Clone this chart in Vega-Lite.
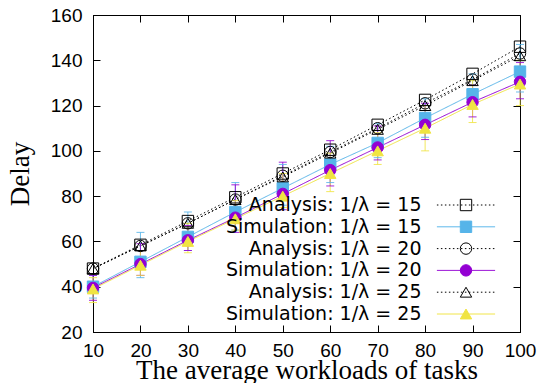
{
  "$schema": "https://vega.github.io/schema/vega-lite/v6.json",
  "width": 427,
  "height": 317,
  "autosize": {"type": "none"},
  "padding": {"left": 93, "top": 15, "right": 21, "bottom": 51},
  "background": "white",
  "config": {
    "view": {"stroke": "black", "strokeWidth": 1},
    "axis": {
      "grid": false,
      "domainColor": "black",
      "domainWidth": 1,
      "tickColor": "black",
      "tickWidth": 1,
      "tickSize": -7,
      "labelColor": "black",
      "labelFont": "Liberation Sans",
      "labelFontSize": 19,
      "labelFlush": false,
      "labelOverlap": false,
      "titleFont": "Liberation Serif",
      "titleFontSize": 27,
      "titleFontWeight": "normal",
      "titleColor": "black"
    },
    "legend": {
      "orient": "none",
      "legendX": 344,
      "legendY": 180.5,
      "title": null,
      "padding": 0,
      "symbolStrokeWidth": 1,
      "symbolOffset": 19.5,
      "labelAlign": "right",
      "labelOffset": -54,
      "labelFont": "DejaVu Sans",
      "labelFontSize": 19,
      "labelLimit": 0,
      "rowPadding": 1.8
    }
  },
  "datasets": {
    "delay": [
      {"x": 10, "series": "Analysis: 1/λ = 15", "delay": 48},
      {"x": 20, "series": "Analysis: 1/λ = 15", "delay": 58.5},
      {"x": 30, "series": "Analysis: 1/λ = 15", "delay": 69},
      {"x": 40, "series": "Analysis: 1/λ = 15", "delay": 79.5},
      {"x": 50, "series": "Analysis: 1/λ = 15", "delay": 90},
      {"x": 60, "series": "Analysis: 1/λ = 15", "delay": 100.5},
      {"x": 70, "series": "Analysis: 1/λ = 15", "delay": 111.5},
      {"x": 80, "series": "Analysis: 1/λ = 15", "delay": 122.5},
      {"x": 90, "series": "Analysis: 1/λ = 15", "delay": 134},
      {"x": 100, "series": "Analysis: 1/λ = 15", "delay": 146},
      {"x": 10, "series": "Simulation: 1/λ = 15", "delay": 40, "lo": 35, "hi": 45},
      {"x": 20, "series": "Simulation: 1/λ = 15", "delay": 51, "lo": 44, "hi": 64},
      {"x": 30, "series": "Simulation: 1/λ = 15", "delay": 62, "lo": 56, "hi": 73},
      {"x": 40, "series": "Simulation: 1/λ = 15", "delay": 73, "lo": 65, "hi": 86},
      {"x": 50, "series": "Simulation: 1/λ = 15", "delay": 83.5, "lo": 76, "hi": 94},
      {"x": 60, "series": "Simulation: 1/λ = 15", "delay": 94, "lo": 86, "hi": 102},
      {"x": 70, "series": "Simulation: 1/λ = 15", "delay": 103.5, "lo": 97, "hi": 112},
      {"x": 80, "series": "Simulation: 1/λ = 15", "delay": 114.5, "lo": 106, "hi": 123},
      {"x": 90, "series": "Simulation: 1/λ = 15", "delay": 125, "lo": 119, "hi": 134},
      {"x": 100, "series": "Simulation: 1/λ = 15", "delay": 135, "lo": 126, "hi": 147},
      {"x": 10, "series": "Analysis: 1/λ = 20", "delay": 48},
      {"x": 20, "series": "Analysis: 1/λ = 20", "delay": 58},
      {"x": 30, "series": "Analysis: 1/λ = 20", "delay": 68},
      {"x": 40, "series": "Analysis: 1/λ = 20", "delay": 78.5},
      {"x": 50, "series": "Analysis: 1/λ = 20", "delay": 89},
      {"x": 60, "series": "Analysis: 1/λ = 20", "delay": 99.5},
      {"x": 70, "series": "Analysis: 1/λ = 20", "delay": 110},
      {"x": 80, "series": "Analysis: 1/λ = 20", "delay": 121},
      {"x": 90, "series": "Analysis: 1/λ = 20", "delay": 131.5},
      {"x": 100, "series": "Analysis: 1/λ = 20", "delay": 143},
      {"x": 10, "series": "Simulation: 1/λ = 20", "delay": 39.5, "lo": 34, "hi": 45},
      {"x": 20, "series": "Simulation: 1/λ = 20", "delay": 50, "lo": 45, "hi": 59},
      {"x": 30, "series": "Simulation: 1/λ = 20", "delay": 60.5, "lo": 56, "hi": 67},
      {"x": 40, "series": "Simulation: 1/λ = 20", "delay": 70.5, "lo": 64, "hi": 85},
      {"x": 50, "series": "Simulation: 1/λ = 20", "delay": 81, "lo": 74, "hi": 95},
      {"x": 60, "series": "Simulation: 1/λ = 20", "delay": 91.5, "lo": 84.5, "hi": 104.5},
      {"x": 70, "series": "Simulation: 1/λ = 20", "delay": 101.5, "lo": 96, "hi": 111},
      {"x": 80, "series": "Simulation: 1/λ = 20", "delay": 111.5, "lo": 105, "hi": 121},
      {"x": 90, "series": "Simulation: 1/λ = 20", "delay": 121.5, "lo": 115, "hi": 129},
      {"x": 100, "series": "Simulation: 1/λ = 20", "delay": 130.5, "lo": 123, "hi": 139},
      {"x": 10, "series": "Analysis: 1/λ = 25", "delay": 48},
      {"x": 20, "series": "Analysis: 1/λ = 25", "delay": 58},
      {"x": 30, "series": "Analysis: 1/λ = 25", "delay": 68},
      {"x": 40, "series": "Analysis: 1/λ = 25", "delay": 78.5},
      {"x": 50, "series": "Analysis: 1/λ = 25", "delay": 88.5},
      {"x": 60, "series": "Analysis: 1/λ = 25", "delay": 99},
      {"x": 70, "series": "Analysis: 1/λ = 25", "delay": 109.5},
      {"x": 80, "series": "Analysis: 1/λ = 25", "delay": 120},
      {"x": 90, "series": "Analysis: 1/λ = 25", "delay": 131},
      {"x": 100, "series": "Analysis: 1/λ = 25", "delay": 142},
      {"x": 10, "series": "Simulation: 1/λ = 25", "delay": 39, "lo": 33, "hi": 44},
      {"x": 20, "series": "Simulation: 1/λ = 25", "delay": 49.5, "lo": 45, "hi": 56},
      {"x": 30, "series": "Simulation: 1/λ = 25", "delay": 60, "lo": 55, "hi": 68},
      {"x": 40, "series": "Simulation: 1/λ = 25", "delay": 70, "lo": 65, "hi": 78},
      {"x": 50, "series": "Simulation: 1/λ = 25", "delay": 80, "lo": 75, "hi": 90},
      {"x": 60, "series": "Simulation: 1/λ = 25", "delay": 90, "lo": 82, "hi": 99},
      {"x": 70, "series": "Simulation: 1/λ = 25", "delay": 100, "lo": 94, "hi": 108},
      {"x": 80, "series": "Simulation: 1/λ = 25", "delay": 110, "lo": 100, "hi": 120},
      {"x": 90, "series": "Simulation: 1/λ = 25", "delay": 120.5, "lo": 112.5, "hi": 131},
      {"x": 100, "series": "Simulation: 1/λ = 25", "delay": 129.5, "lo": 120, "hi": 140}
    ]
  },
  "data": {"name": "delay"},
  "resolve": {"axis": {"x": "independent", "y": "independent"}},
  "layer": [
    {
      "mark": {"type": "line", "strokeWidth": 1},
      "encoding": {
        "x": {
          "field": "x", "type": "quantitative",
          "scale": {"domain": [10, 100], "nice": false, "zero": false},
          "axis": {"orient": "bottom", "values": [10, 20, 30, 40, 50, 60, 70, 80, 90, 100], "labelPadding": 16,
                   "title": "The average workloads of tasks", "titleX": 213.5, "titleY": 46, "titleBaseline": "alphabetic", "titleAnchor": "middle", "titleAlign": "center"}
        },
        "y": {
          "field": "delay", "type": "quantitative",
          "scale": {"domain": [20, 160], "nice": false, "zero": false},
          "axis": {"orient": "left", "values": [20, 40, 60, 80, 100, 120, 140, 160], "labelPadding": 18,
                   "title": "Delay", "titleX": -65, "titleY": 158.5, "titleAngle": -90, "titleBaseline": "alphabetic", "titleAlign": "center"}
        },
        "color": {
          "field": "series", "type": "nominal",
          "scale": {
            "domain": ["Analysis: 1/λ = 15", "Simulation: 1/λ = 15", "Analysis: 1/λ = 20", "Simulation: 1/λ = 20", "Analysis: 1/λ = 25", "Simulation: 1/λ = 25"],
            "range": ["black", "#56b4e9", "black", "#9400d3", "black", "#f0e442"]
          },
          "legend": {"symbolType": "M-4.85,0H4.85", "symbolSize": 144, "symbolFillColor": "transparent", "labelColor": "black"}
        },
        "strokeDash": {
          "field": "series", "type": "nominal",
          "scale": {
            "domain": ["Analysis: 1/λ = 15", "Simulation: 1/λ = 15", "Analysis: 1/λ = 20", "Simulation: 1/λ = 20", "Analysis: 1/λ = 25", "Simulation: 1/λ = 25"],
            "range": [[1.5, 2.5], [1, 0], [1.5, 2.5], [1, 0], [1.5, 2.5], [1, 0]]
          },
          "legend": {"symbolType": "M-4.85,0H4.85", "symbolSize": 144, "symbolFillColor": "transparent", "labelColor": "black"}
        }
      }
    },
    {
      "transform": [{"filter": "isValid(datum.lo)"}],
      "mark": {"type": "rule", "strokeWidth": 1, "opacity": 0.85},
      "encoding": {
        "x": {"field": "x", "type": "quantitative",
              "axis": {"orient": "top", "values": [10, 20, 30, 40, 50, 60, 70, 80, 90, 100], "labels": false, "title": null}},
        "y": {"field": "lo", "type": "quantitative",
              "axis": {"orient": "right", "values": [20, 40, 60, 80, 100, 120, 140, 160], "labels": false, "title": null}},
        "y2": {"field": "hi"},
        "color": {"field": "series", "type": "nominal", "legend": null}
      }
    },
    {
      "transform": [{"filter": "isValid(datum.lo)"}],
      "mark": {"type": "tick", "orient": "horizontal", "size": 8, "thickness": 1, "opacity": 0.85},
      "encoding": {
        "x": {"field": "x", "type": "quantitative", "axis": null},
        "y": {"field": "lo", "type": "quantitative", "axis": null},
        "color": {"field": "series", "type": "nominal", "legend": null}
      }
    },
    {
      "transform": [{"filter": "isValid(datum.hi)"}],
      "mark": {"type": "tick", "orient": "horizontal", "size": 8, "thickness": 1, "opacity": 0.85},
      "encoding": {
        "x": {"field": "x", "type": "quantitative", "axis": null},
        "y": {"field": "hi", "type": "quantitative", "axis": null},
        "color": {"field": "series", "type": "nominal", "legend": null}
      }
    },
    {
      "mark": {"type": "point", "filled": true, "size": 130, "strokeWidth": 1, "opacity": 1},
      "encoding": {
        "x": {"field": "x", "type": "quantitative", "axis": null},
        "y": {"field": "delay", "type": "quantitative", "axis": null},
        "shape": {
          "field": "series", "type": "nominal",
          "scale": {
            "domain": {"expr": "['Analysis: 1/λ = 15', 'Simulation: 1/λ = 15', 'Analysis: 1/λ = 20', 'Simulation: 1/λ = 20', 'Analysis: 1/λ = 25', 'Simulation: 1/λ = 25']"},
            "range": ["square", "square", "circle", "circle", "triangle-up", "triangle-up"]
          },
          "legend": {"symbolSize": 130, "labelColor": "transparent"}
        },
        "fill": {
          "field": "series", "type": "nominal",
          "scale": {
            "domain": {"expr": "['Analysis: 1/λ = 15', 'Simulation: 1/λ = 15', 'Analysis: 1/λ = 20', 'Simulation: 1/λ = 20', 'Analysis: 1/λ = 25', 'Simulation: 1/λ = 25']"},
            "range": ["transparent", "#56b4e9", "transparent", "#9400d3", "transparent", "#f0e442"]
          },
          "legend": {"symbolSize": 130, "labelColor": "transparent"}
        },
        "stroke": {
          "field": "series", "type": "nominal",
          "scale": {
            "domain": {"expr": "['Analysis: 1/λ = 15', 'Simulation: 1/λ = 15', 'Analysis: 1/λ = 20', 'Simulation: 1/λ = 20', 'Analysis: 1/λ = 25', 'Simulation: 1/λ = 25']"},
            "range": ["black", "#56b4e9", "black", "#9400d3", "black", "#f0e442"]
          },
          "legend": {"symbolSize": 130, "labelColor": "transparent"}
        }
      }
    }
  ]
}
